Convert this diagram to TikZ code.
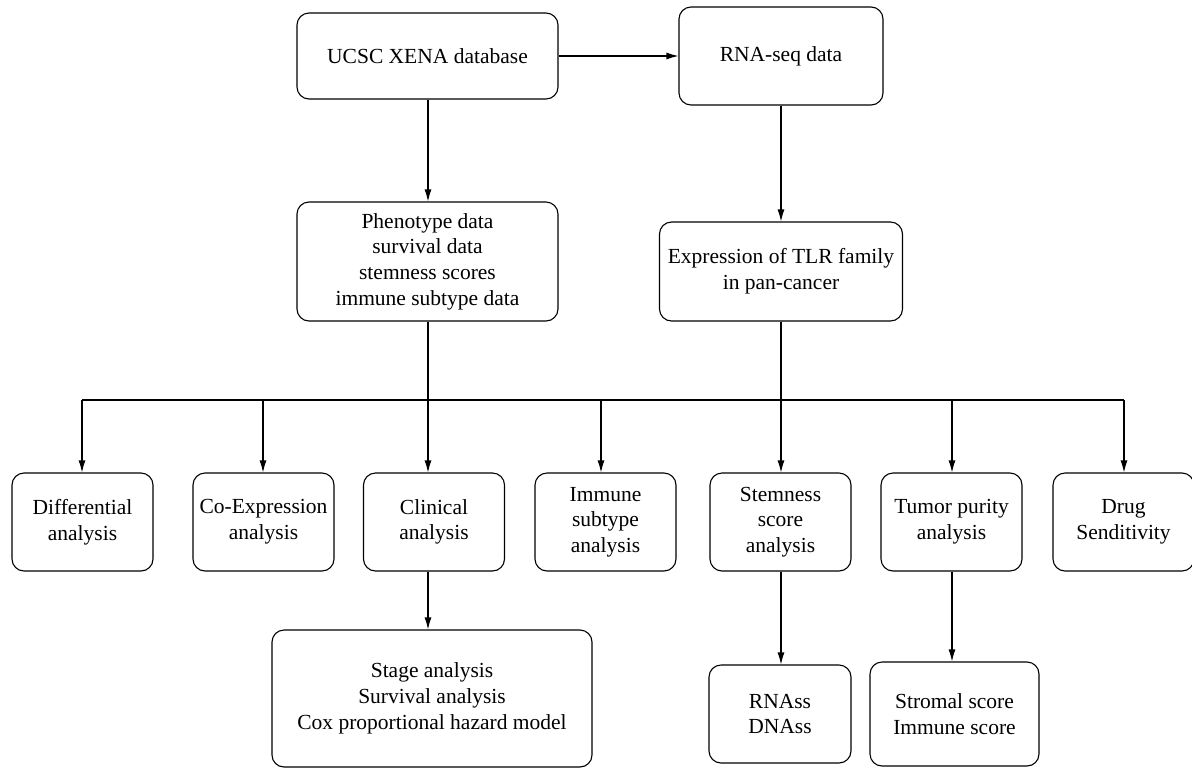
\documentclass[tikz,border=0pt]{standalone}
\usepackage{fontspec}
\setmainfont{Liberation Serif}
\usetikzlibrary{arrows.meta}
\begin{document}
\begin{tikzpicture}[x=1pt,y=-1pt,
  box/.style={draw, line width=1.1pt, rounded corners=12pt, align=center, inner sep=0pt,
    font=\fontsize{21.5}{25.7}\selectfont},
  rowbox/.style={box, minimum width=141pt, minimum height=98pt},
  conn/.style={line width=1.1pt},
  arr/.style={conn, -{Latex[length=12pt,width=7pt]}}
]
\useasboundingbox (0,0) rectangle (1192,769);
% top
\node[box, minimum width=261pt, minimum height=86pt] (ucsc) at (427.5,56) {UCSC XENA database};
\node[box, minimum width=204pt, minimum height=98pt] (rna) at (781,56) {RNA-seq data};
\node[box, minimum width=261pt, minimum height=119pt] (phen) at (427.5,261.5) {Phenotype data\\survival data\\stemness scores\\immune subtype data};
\node[box, minimum width=243pt, minimum height=99pt] (expr) at (781,271.5) {Expression of TLR family\\in pan-cancer};
% bottom row
\node[rowbox] (diff) at (82.5,522) {Differential\\analysis};
\node[rowbox] (coexp) at (263.5,522) {Co-Expression\\analysis};
\node[rowbox] (clin) at (434,522) {Clinical\\analysis};
\node[rowbox] (immune) at (605.5,522) {Immune\\subtype\\analysis};
\node[rowbox] (stem) at (780.5,522) {Stemness\\score\\analysis};
\node[rowbox] (tumor) at (951.5,522) {Tumor purity\\analysis};
\node[rowbox] (drug) at (1123.5,522) {Drug\\Senditivity};
% lowest
\node[box, minimum width=320pt, minimum height=137pt] (stage) at (432,698.5) {Stage analysis\\Survival analysis\\Cox proportional hazard model};
\node[box, minimum width=142pt, minimum height=98pt] (rnass) at (780,714) {RNAss\\DNAss};
\node[box, minimum width=169pt, minimum height=104pt] (strom) at (954.5,714) {Stromal score\\Immune score};
% bus coordinates
\coordinate (b1) at (82,400);
\coordinate (b2) at (263,400);
\coordinate (b3) at (428,400);
\coordinate (b4) at (601,400);
\coordinate (b5) at (781,400);
\coordinate (b6) at (952,400);
\coordinate (b7) at (1124,400);
% connectors
\draw[arr] (ucsc) -- (rna);
\draw[arr] (ucsc.south -| b3) -- (phen.north -| b3);
\draw[arr] (rna.south -| b5) -- (expr.north -| b5);
\draw[conn] (phen.south -| b3) -- (b3);
\draw[conn] (expr.south -| b5) -- (b5);
\draw[conn] (b1) -- (b7);
\draw[arr] (b1) -- (b1 |- diff.north);
\draw[arr] (b2) -- (b2 |- coexp.north);
\draw[arr] (b3) -- (b3 |- clin.north);
\draw[arr] (b4) -- (b4 |- immune.north);
\draw[arr] (b5) -- (b5 |- stem.north);
\draw[arr] (b6) -- (b6 |- tumor.north);
\draw[arr] (b7) -- (b7 |- drug.north);
\draw[arr] (b3 |- clin.south) -- (b3 |- stage.north);
\draw[arr] (b5 |- stem.south) -- (b5 |- rnass.north);
\draw[arr] (b6 |- tumor.south) -- (b6 |- strom.north);
\end{tikzpicture}
\end{document}
